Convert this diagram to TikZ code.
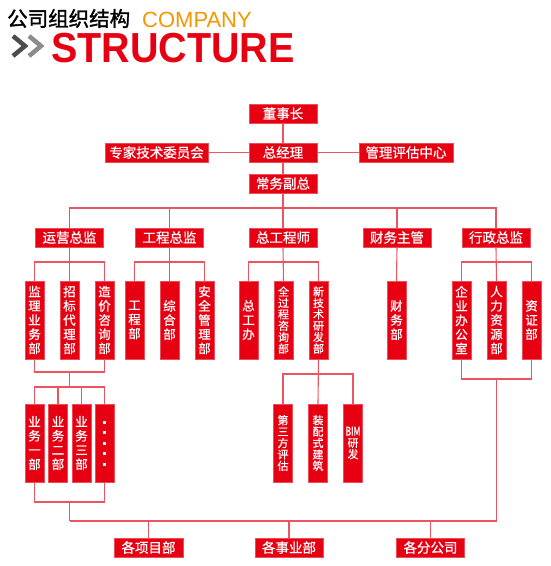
\documentclass[tikz,border=0pt]{standalone}
\usepackage{fontspec}
\setmainfont{Liberation Sans}
\newfontfamily\cjk{Noto Sans CJK SC}[FakeBold=0.8]
\newfontfamily\cjkb{Noto Sans CJK SC}[FakeBold=1.5]
\definecolor{boxred}{HTML}{E60012}
\definecolor{linered}{HTML}{EA5561}
\definecolor{orangec}{HTML}{F39800}
\definecolor{darkg}{HTML}{4D4D4D}
\definecolor{lightg}{HTML}{8C8C8C}
\tikzset{
  x=1pt, y=-1pt,
  hb/.style={fill=boxred, draw=boxred!70, line width=0.4pt, text=white, minimum width=68pt, minimum height=19pt, inner sep=0pt, font=\cjk\fontsize{13.5}{14}\selectfont},
  vb/.style={fill=boxred, draw=boxred!70, line width=0.4pt, text=white, minimum width=19pt, minimum height=78pt, inner sep=0pt, align=center, font=\cjk\fontsize{12.5}{14.2}\selectfont},
  vs/.style={font=\cjk\fontsize{11}{11.4}\selectfont},
  ln/.style={draw=linered, line width=1.1pt},
}
\begin{document}
\begin{tikzpicture}
\useasboundingbox (0,0) rectangle (550,566);
% header
\node[anchor=west, inner sep=0pt, font=\cjkb\fontsize{20.5}{22}\selectfont] (t1) at (7,18.5) {公司组织结构};
\node[anchor=west, inner sep=0pt, text=orangec, font=\fontsize{22}{24}\selectfont] (t2) at (142,19.5) {COMPANY};
\node[anchor=west, inner sep=0pt, text=boxred, font=\bfseries\fontsize{42}{44}\selectfont] (t3) at (51,48) {\scalebox{0.94}[1]{STRUCTURE}};
\draw[darkg, line width=4.5pt] (13,36) -- (25,46) -- (13,56);
\draw[lightg, line width=4.5pt] (29,36) -- (41,46) -- (29,56);
% top
\node[hb] (dsz) at (283,113.5) {董事长};
\node[hb] (zjl) at (283,152.5) {总经理};
\node[hb, minimum width=103pt] (zj) at (156.5,152.5) {专家技术委员会};
\node[hb, minimum width=94pt] (gl) at (406,152.5) {管理评估中心};
\node[hb] (cw) at (283,183.5) {常务副总};
% level 2
\node[hb] (yy) at (69.5,237.5) {运营总监};
\node[hb] (gc) at (169.5,237.5) {工程总监};
\node[hb] (zg) at (283,237.5) {总工程师};
\node[hb] (cwz) at (397,237.5) {财务主管};
\node[hb] (xz) at (496,237.5) {行政总监};
% level 3
\node[vb] (a1) at (34.5,320) {监\\理\\业\\务\\部};
\node[vb] (a2) at (69.5,320) {招\\标\\代\\理\\部};
\node[vb] (a3) at (104.5,320) {造\\价\\咨\\询\\部};
\node[vb] (b1) at (134.5,320) {工\\程\\部};
\node[vb] (b2) at (169.5,320) {综\\合\\部};
\node[vb] (b3) at (204.5,320) {安\\全\\管\\理\\部};
\node[vb] (c1) at (248.5,320) {总\\工\\办};
\node[vb, vs] (c2) at (283.5,320) {全\\过\\程\\咨\\询\\部};
\node[vb, vs] (c3) at (318.5,320) {新\\技\\术\\研\\发\\部};
\node[vb] (d1) at (396.5,320) {财\\务\\部};
\node[vb] (e1) at (461.5,320) {企\\业\\办\\公\\室};
\node[vb] (e2) at (496.5,320) {人\\力\\资\\源\\部};
\node[vb] (e3) at (531.5,320) {资\\证\\部};
% level 4
\node[vb] (f1) at (34.5,443) {业\\务\\一\\部};
\node[vb] (f2) at (58,443) {业\\务\\二\\部};
\node[vb] (f3) at (81.5,443) {业\\务\\三\\部};
\node[vb, font=\fontsize{10}{10.5}\selectfont] (f4) at (104.5,443) {\rule{3pt}{3pt}\\\rule{3pt}{3pt}\\\rule{3pt}{3pt}\\\rule{3pt}{3pt}\\\rule{3pt}{3pt}};
\node[vb, vs] (g1) at (283,443) {第\\三\\方\\评\\估};
\node[vb, vs] (g2) at (318,443) {装\\配\\式\\建\\筑};
\node[vb, vs] (g3) at (353,443) {{\fontsize{12}{14}\selectfont\scalebox{0.7}[1]{BIM}}\\研\\发};
% bottom
\node[hb, minimum width=69pt] (h1) at (148.5,547.5) {各项目部};
\node[hb] (h2) at (289,547.5) {各事业部};
\node[hb] (h3) at (430.5,547.5) {各分公司};
% coordinates
\coordinate (bus1) at (283,208);
\coordinate (ya) at (69.5,262);
\coordinate (yb) at (169.5,262);
\coordinate (yc) at (283,262);
\coordinate (ye) at (496,262);
\coordinate (ab) at (69.5,372);
\coordinate (fb) at (69.5,387);
\coordinate (fc) at (69.5,502);
\coordinate (eb) at (496.5,379);
\coordinate (gb) at (318.5,374);
\coordinate (bl) at (69.5,521);
\coordinate (br) at (496.5,521);
\draw[ln] (dsz) -- (zjl);
\draw[ln] (zjl) -- (cw);
\draw[ln] (zj) -- (zjl);
\draw[ln] (zjl) -- (gl);
\draw[ln] (cw.south) -- (bus1);
\draw[ln] (yy.north) |- (bus1) -| (xz.north);
\draw[ln] (gc.north) -- (gc.north |- bus1);
\draw[ln] (zg.north) -- (bus1);
\draw[ln] (cwz.north) -- (cwz.north |- bus1);
% level 2 -> 3
\draw[ln] (yy.south) -- (a2.north);
\draw[ln] (a1.north) |- (ya) -| (a3.north);
\draw[ln] (gc.south) -- (b2.north);
\draw[ln] (b1.north) |- (yb) -| (b3.north);
\draw[ln] (zg.south) -- (c2.north);
\draw[ln] (c1.north) |- (yc) -| (c3.north);
\draw[ln] (cwz.south) -- (d1.north);
\draw[ln] (xz.south) -- (e2.north);
\draw[ln] (e1.north) |- (ye) -| (e3.north);
% 运营 -> 业务
\draw[ln] (a1.south) |- (ab) -| (a3.south);
\draw[ln] (ab) -- (fb);
\draw[ln] (f1.north) |- (fb) -| (f4.north);
\draw[ln] (f2.north) -- (f2.north |- fb);
\draw[ln] (f3.north) -- (f3.north |- fb);
\draw[ln] (f1.south) |- (fc) -| (f4.south);
\draw[ln] (fc) -- (bl);
% 新技术
\draw[ln] (c3.south) -- (g2.north);
\draw[ln] (g1.north) |- (gb) -| (g3.north);
% 行政 bottom
\draw[ln] (e1.south) |- (eb) -| (e3.south);
\draw[ln] (eb) -- (br);
\draw[ln] (bl) -- (br);
\draw[ln] (h1.north) -- (h1.north |- bl);
\draw[ln] (h2.north) -- (h2.north |- bl);
\draw[ln] (h3.north) -- (h3.north |- bl);
\end{tikzpicture}
\end{document}
